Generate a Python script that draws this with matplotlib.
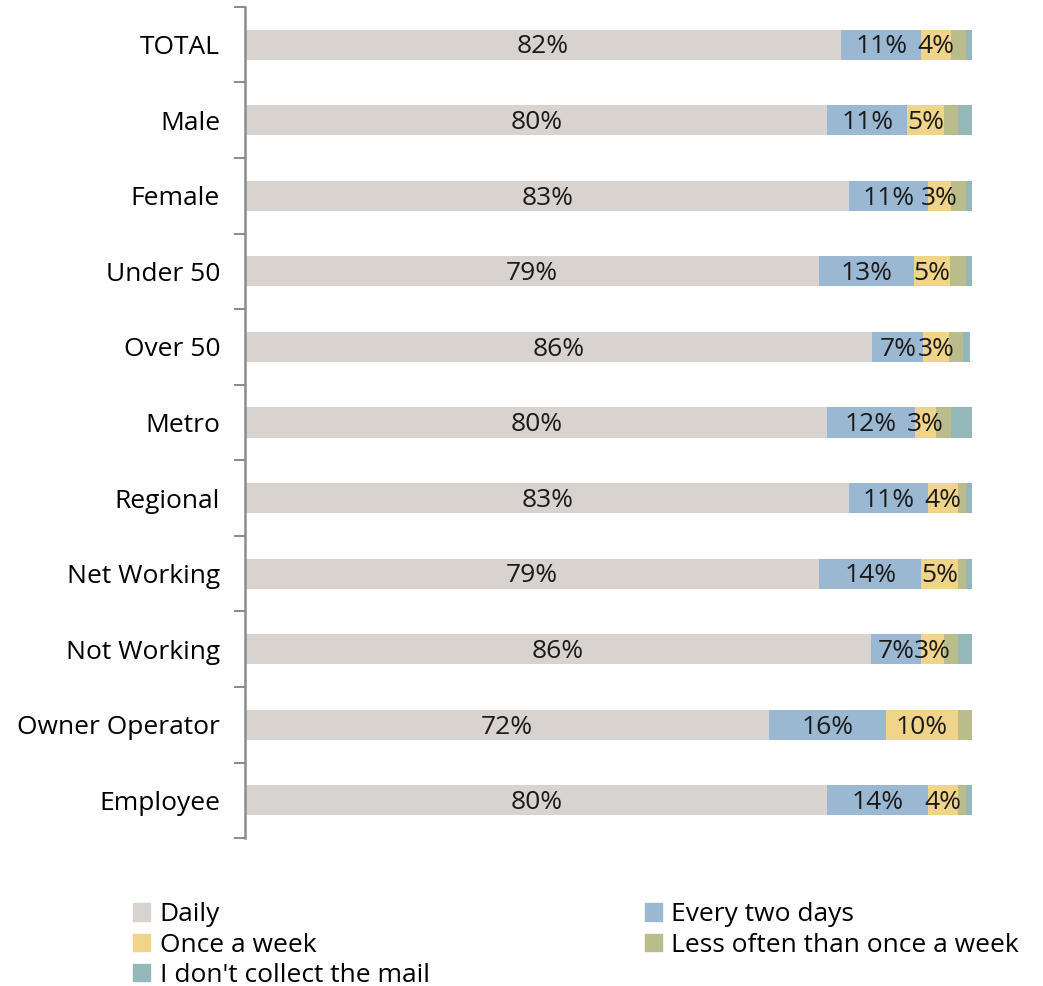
import numpy as np
import matplotlib.pyplot as plt
from matplotlib.patches import Patch

plt.rcParams['font.family'] = ['Open Sans', 'DejaVu Sans']

groups = ['TOTAL', 'Male', 'Female', 'Under 50', 'Over 50', 'Metro', 'Regional',
          'Net Working', 'Not Working', 'Owner Operator', 'Employee']

daily = [82.0, 80.1, 83.1, 79.0, 86.3, 80.1, 83.1, 79.0, 86.1, 72.1, 80.1]
every_two_days = [11.0, 11.0, 10.9, 13.0, 7.0, 12.0, 10.9, 14.0, 6.9, 16.0, 13.9]
once_a_week = [4.1, 5.0, 3.1, 5.0, 3.49, 3.0, 4.0, 5.0, 3.1, 10.0, 4.0]
less_often = [2.0, 1.9, 2.0, 2.1, 2.0, 2.0, 1.1, 1.1, 1.9, 2.0, 1.1]
no_collect = [0.9, 2.0, 0.9, 0.9, 0.9, 3.0, 0.9, 0.9, 2.0, 0.0, 0.9]

series = ['Daily', 'Every two days', 'Once a week',
          'Less often than once a week', "I don't collect the mail"]
colors = ['#D8D3CE', '#9BB8D3', '#F0D48A', '#BABC8C', '#94B8B9']
labelled = [True, True, True, False, False]

fs = 19

fig = plt.figure(figsize=(10.43, 9.86), dpi=100)
ax = fig.add_axes([0.235, 0.150, 0.697, 0.843])

y = np.arange(len(groups))
left = np.zeros(len(groups))
for vals, col, name, lab in zip([daily, every_two_days, once_a_week, less_often, no_collect],
                                colors, series, labelled):
    vals = np.array(vals)
    ax.barh(y, vals, left=left, height=0.4, color=col, label=name, linewidth=0)
    if lab:
        for yi, l, v in zip(y, left, vals):
            ax.text(l + v / 2, yi + 0.03, f'{v:.0f}%', ha='center', va='center',
                    fontsize=fs, color='#1a1a1a')
    left += vals

ax.set_xlim(0, 100)
ax.set_ylim(len(groups) - 0.5, -0.5)
ax.set_yticks(y)
ax.set_yticklabels(groups, fontsize=fs)
ax.tick_params(axis='y', which='major', length=0, pad=18)
ax.set_yticks(np.arange(-0.5, len(groups)), minor=True)
ax.tick_params(axis='y', which='minor', length=8, width=1.5, color='#8c8c8c')
ax.set_xticks([])
for s in ['top', 'right', 'bottom']:
    ax.spines[s].set_visible(False)
ax.spines['left'].set_color('#8c8c8c')
ax.spines['left'].set_linewidth(1.8)

handles = [Patch(color=c) for c in colors]
order = [0, 2, 4, 1, 3]
fig.legend([handles[i] for i in order], [series[i] for i in order],
           loc='lower left', bbox_to_anchor=(0.105, -0.026), ncol=2,
           frameon=False, fontsize=fs, handlelength=0.65, handleheight=0.65,
           handletextpad=0.35, labelspacing=0.2, columnspacing=8.15)

fig.savefig('out.png', dpi=100)
